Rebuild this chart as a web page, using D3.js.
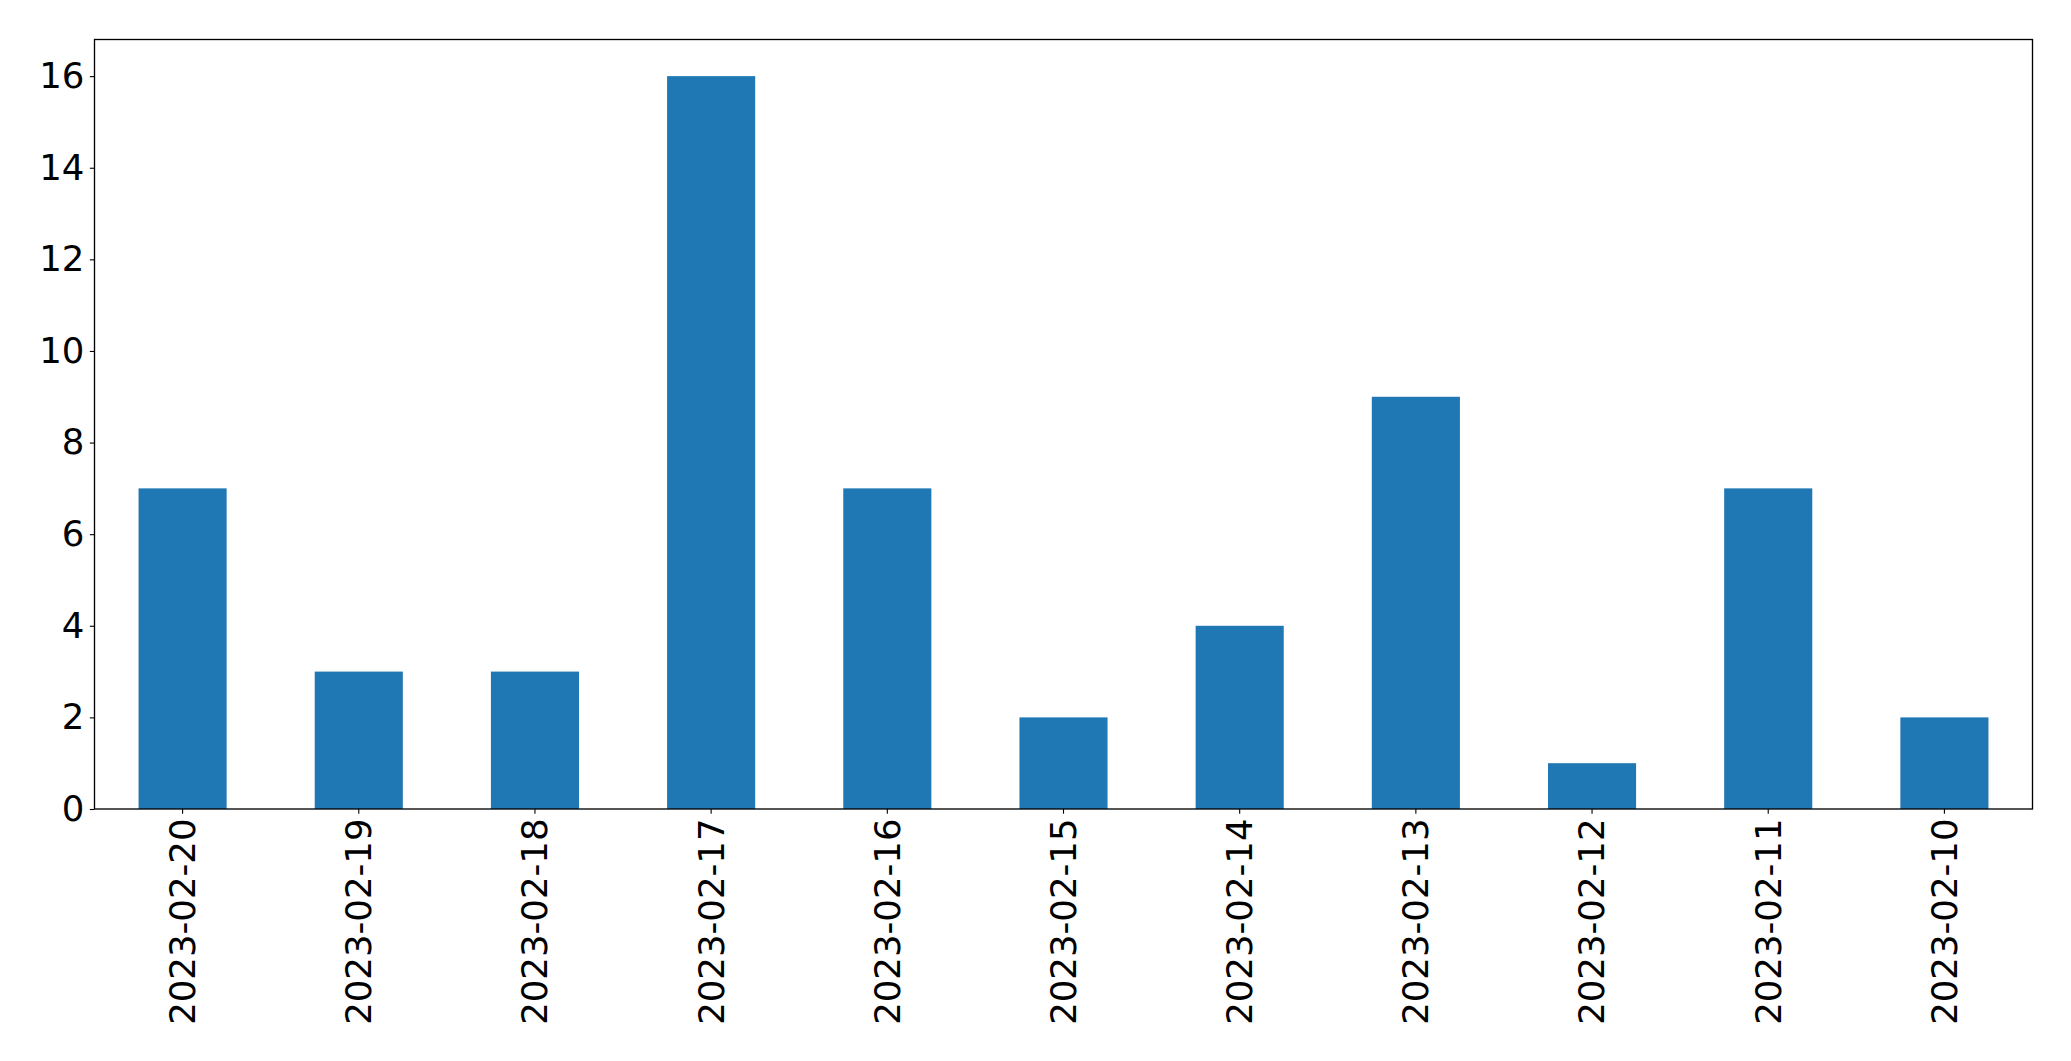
<!DOCTYPE html>
<html><head><meta charset="utf-8">
<script src="https://cdn.jsdelivr.net/npm/d3@7"></script>
<style>body{margin:0;background:#fff;}svg{display:block;}text{font-family:"DejaVu Sans",sans-serif;}</style>
</head><body><svg id="c" width="2071" height="1061"></svg>
<script>
const categories = ["2023-02-20","2023-02-19","2023-02-18","2023-02-17","2023-02-16","2023-02-15","2023-02-14","2023-02-13","2023-02-12","2023-02-11","2023-02-10"];
const values = [7,3,3,16,7,2,4,9,1,7,2];
const yTicks = [0,2,4,6,8,10,12,14,16];

const L=94.5, R=2032.5, T=39.5, B=809;
const svg = d3.select("#c");
const x = d3.scaleBand().domain(categories).range([L,R]).paddingInner(0.5).paddingOuter(0.25);
const y = d3.scaleLinear().domain([0,16.8]).range([B,T]);
const fs = 35.5;

svg.append("g").selectAll("rect").data(values).join("rect")
  .attr("x",(d,i)=>x(categories[i])).attr("width",x.bandwidth())
  .attr("y",d=>y(d)).attr("height",d=>B-y(d)).attr("fill","#1f77b4");

const ya = svg.append("g").attr("transform",`translate(${L},0)`)
  .call(d3.axisLeft(y).tickValues(yTicks).tickSize(4.7).tickPadding(5.5).tickFormat(d3.format("d")));
ya.select(".domain").remove();
ya.selectAll("line").attr("stroke","#000").attr("stroke-width",1.1);
ya.selectAll("text").attr("font-size",fs).attr("fill","#000").attr("font-family","DejaVu Sans");

const xa = svg.append("g").attr("transform",`translate(0,${B})`)
  .call(d3.axisBottom(x).tickSize(4.7).tickPadding(0));
xa.select(".domain").remove();
xa.selectAll("line").attr("stroke","#000").attr("stroke-width",1.1);
xa.selectAll("text").attr("font-size",fs).attr("fill","#000").attr("font-family","DejaVu Sans")
  .attr("transform","rotate(-90)").attr("text-anchor","end")
  .attr("x",-9.5).attr("y",0).attr("dy","0.35em");

svg.append("rect").attr("x",L).attr("y",T).attr("width",R-L).attr("height",B-T)
  .attr("fill","none").attr("stroke","#000").attr("stroke-width",1.33);
</script></body></html>
